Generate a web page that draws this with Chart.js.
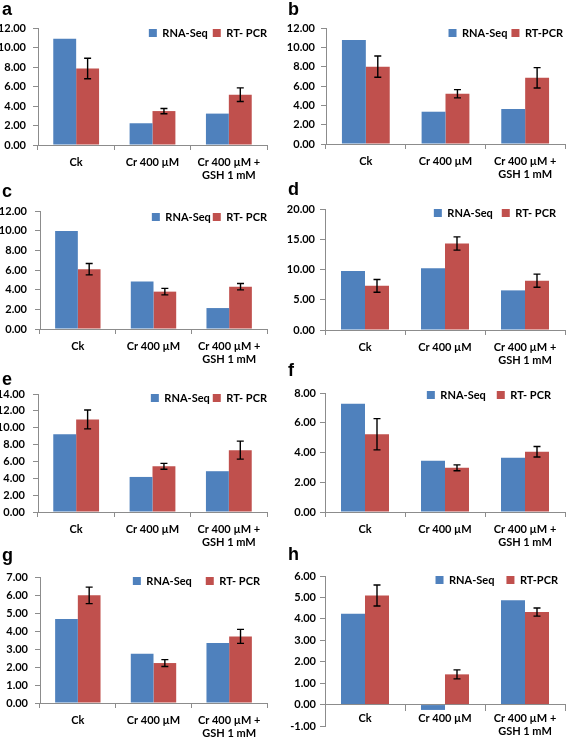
<!DOCTYPE html>
<html>
<head>
<meta charset="utf-8">
<script src="https://cdn.jsdelivr.net/npm/chart.js@4.4.1/dist/chart.umd.min.js"></script>
<style>
    html, body { margin: 0; padding: 0; background: #fff; }
    #wrap { position: relative; width: 567px; height: 738px; overflow: hidden; }
    #wrap canvas { position: absolute; }
    .tag { position: absolute; font: bold 18px "Liberation Sans", Arial, sans-serif; line-height: 18px; color: #000; }
</style>
</head>
<body>
<div id="wrap"></div>
<script>
// shared
const categories = ['Ck', 'Cr 400 µM', ['Cr 400 µM +', 'GSH 1 mM']];

// panel a
const rnaSeqA = [10.9, 2.23, 3.22];
const rtPcrA = [7.85, 3.48, 5.16];
const rtPcrErrA = [1.05, 0.27, 0.7];
const yTicksA = [0, 12, 2];

// panel b
const rnaSeqB = [10.75, 3.34, 3.62];
const rtPcrB = [8.0, 5.2, 6.85];
const rtPcrErrB = [1.1, 0.43, 1.05];
const yTicksB = [0, 12, 2];

// panel c
const rnaSeqC = [9.97, 4.83, 2.13];
const rtPcrC = [6.08, 3.8, 4.3];
const rtPcrErrC = [0.58, 0.33, 0.32];
const yTicksC = [0, 12, 2];

// panel d
const rnaSeqD = [9.75, 10.2, 6.55];
const rtPcrD = [7.3, 14.3, 8.15];
const rtPcrErrD = [1.05, 1.1, 1.08];
const yTicksD = [0, 20, 5];

// panel e
const rnaSeqE = [9.24, 4.16, 4.84];
const rtPcrE = [10.98, 5.42, 7.34];
const rtPcrErrE = [1.12, 0.35, 1.07];
const yTicksE = [0, 14, 2];

// panel f
const rnaSeqF = [7.28, 3.45, 3.65];
const rtPcrF = [5.23, 2.97, 4.05];
const rtPcrErrF = [1.05, 0.2, 0.35];
const yTicksF = [0, 8, 2];

// panel g
const rnaSeqG = [4.67, 2.74, 3.33];
const rtPcrG = [5.98, 2.22, 3.7];
const rtPcrErrG = [0.46, 0.19, 0.39];
const yTicksG = [0, 7, 1];

// panel h
const rnaSeqH = [4.24, -0.25, 4.87];
const rtPcrH = [5.09, 1.41, 4.32];
const rtPcrErrH = [0.49, 0.21, 0.19];
const yTicksH = [-1, 6, 1];

const BLUE = '#4f81bd';
const RED = '#c0504d';
const AXIS = '#8c8c8c';

Chart.defaults.font.family = 'Lato, "Liberation Sans", sans-serif';
Chart.defaults.font.size = 11;
Chart.defaults.font.weight = 'bold';
Chart.defaults.color = '#000';

// where each panel sits and how its plot area is laid out
const panels = [
    {tag: 'a', rna: rnaSeqA, rt: rtPcrA, err: rtPcrErrA, ticks: yTicksA, rtName: 'RT- PCR',
     x: 0, y: 0, w: 283, h: 185, axisX: 38, top: 28, bottom: 145, right: 267,
     legR: 267, legY: 33, legGap: 5, yPad: 7, tagX: 2, tagY: 0},
    {tag: 'b', rna: rnaSeqB, rt: rtPcrB, err: rtPcrErrB, ticks: yTicksB, rtName: 'RT-PCR',
     x: 283, y: 0, w: 284, h: 185, axisX: 43, top: 28, bottom: 144, right: 282,
     legR: 280, legY: 33, legGap: 4, yPad: 6, tagX: 288, tagY: 0},
    {tag: 'c', rna: rnaSeqC, rt: rtPcrC, err: rtPcrErrC, ticks: yTicksC, rtName: 'RT- PCR',
     x: 0, y: 185, w: 283, h: 185, axisX: 40, top: 26, bottom: 144, right: 267,
     legR: 267, legY: 32, legGap: 2, yPad: 8, tagX: 2, tagY: 182},
    {tag: 'd', rna: rnaSeqD, rt: rtPcrD, err: rtPcrErrD, ticks: yTicksD, rtName: 'RT- PCR',
     x: 283, y: 185, w: 284, h: 185, axisX: 42, top: 24, bottom: 145, right: 282,
     legR: 273, legY: 28, legGap: 9, yPad: 5, tagX: 288, tagY: 180},
    {tag: 'e', rna: rnaSeqE, rt: rtPcrE, err: rtPcrErrE, ticks: yTicksE, rtName: 'RT- PCR',
     x: 0, y: 370, w: 283, h: 183, axisX: 38, top: 24, bottom: 142, right: 267,
     legR: 267, legY: 28, legGap: 3, yPad: 8, tagX: 2, tagY: 370},
    {tag: 'f', rna: rnaSeqF, rt: rtPcrF, err: rtPcrErrF, ticks: yTicksF, rtName: 'RT- PCR',
     x: 283, y: 370, w: 284, h: 183, axisX: 42, top: 23, bottom: 142, right: 282,
     legR: 268, legY: 25, legGap: 11, yPad: 4, tagX: 288, tagY: 361},
    {tag: 'g', rna: rnaSeqG, rt: rtPcrG, err: rtPcrErrG, ticks: yTicksG, rtName: 'RT- PCR',
     x: 0, y: 553, w: 283, h: 185, axisX: 40, top: 24, bottom: 150, right: 267,
     legR: 260, legY: 28, legGap: 14, yPad: 7, tagX: 2, tagY: 546},
    {tag: 'h', rna: rnaSeqH, rt: rtPcrH, err: rtPcrErrH, ticks: yTicksH, rtName: 'RT-PCR',
     x: 283, y: 553, w: 284, h: 185, axisX: 42, top: 23, bottom: 173, right: 282,
     legR: 275, legY: 27, legGap: 12, yPad: 4, tagX: 288, tagY: 545, zeroAxis: true}
];

// moves the legend into the plot area, top right, like Excel does
const legendInside = {
    id: 'legendInside',
    afterLayout(chart, args, opts) {
        const lg = chart.legend;
        const pad = opts.gap;
        lg.top = opts.cy - pad - 5.5;
        lg.bottom = lg.top + 30;
        lg.left = 0;
        lg.right = opts.right + pad;
    }
};

// RT-PCR error bars
const errorBars = {
    id: 'errorBars',
    afterDatasetsDraw(chart) {
        const ds = chart.data.datasets[1];
        const meta = chart.getDatasetMeta(1);
        const yScale = chart.scales.y;
        const ctx = chart.ctx;
        ctx.save();
        ctx.strokeStyle = '#000';
        ctx.lineWidth = 1.4;
        meta.data.forEach((bar, i) => {
            const hi = yScale.getPixelForValue(ds.data[i] + ds.errors[i]);
            const lo = yScale.getPixelForValue(ds.data[i] - ds.errors[i]);
            ctx.beginPath();
            ctx.moveTo(bar.x, hi); ctx.lineTo(bar.x, lo);
            ctx.moveTo(bar.x - 3.5, hi); ctx.lineTo(bar.x + 3.5, hi);
            ctx.moveTo(bar.x - 3.5, lo); ctx.lineTo(bar.x + 3.5, lo);
            ctx.stroke();
        });
        ctx.restore();
    }
};

const wrap = document.getElementById('wrap');

panels.forEach(p => {
    const canvas = document.createElement('canvas');
    canvas.width = p.w;
    canvas.height = p.h;
    canvas.style.left = p.x + 'px';
    canvas.style.top = p.y + 'px';
    wrap.appendChild(canvas);

    const xScale = {
        type: 'category',
        offset: true,
        grid: {display: true, drawOnChartArea: false, offset: true, tickLength: p.zeroAxis ? 6 : 5, color: AXIS},
        border: {color: AXIS},
        ticks: {padding: p.zeroAxis ? 1 : 6, maxRotation: 0, autoSkip: false},
        afterFit: s => { if (!p.zeroAxis) s.height = p.h - p.bottom; }
    };
    if (p.zeroAxis) xScale.position = {y: 0};

    new Chart(canvas.getContext('2d'), {
        type: 'bar',
        data: {
            labels: categories,
            datasets: [
                {label: 'RNA-Seq', data: p.rna, backgroundColor: BLUE},
                {label: p.rtName, data: p.rt, errors: p.err, backgroundColor: RED}
            ]
        },
        options: {
            responsive: false,
            animation: false,
            devicePixelRatio: 1,
            categoryPercentage: 0.6,
            barPercentage: 1.0,
            layout: {padding: {left: 0, top: p.top, right: p.w - p.right, bottom: p.zeroAxis ? p.h - p.bottom : 0}},
            scales: {
                x: xScale,
                y: {
                    min: p.ticks[0],
                    max: p.ticks[1],
                    grid: {display: true, drawOnChartArea: false, tickLength: 5, color: AXIS},
                    border: {color: AXIS},
                    ticks: {stepSize: p.ticks[2], padding: p.yPad, callback: v => v.toFixed(2)},
                    afterFit: s => { s.width = p.axisX; }
                }
            },
            plugins: {
                tooltip: {enabled: false},
                legend: {
                    position: 'top',
                    align: 'end',
                    maxHeight: 0.01,
                    labels: {boxWidth: 8, boxHeight: 8, padding: p.legGap, color: '#000'}
                },
                legendInside: {cy: p.legY, right: p.legR, gap: p.legGap}
            }
        },
        plugins: [legendInside, errorBars]
    });

    const tag = document.createElement('div');
    tag.className = 'tag';
    tag.textContent = p.tag;
    tag.style.left = p.tagX + 'px';
    tag.style.top = p.tagY + 'px';
    wrap.appendChild(tag);
});
</script>
</body>
</html>
